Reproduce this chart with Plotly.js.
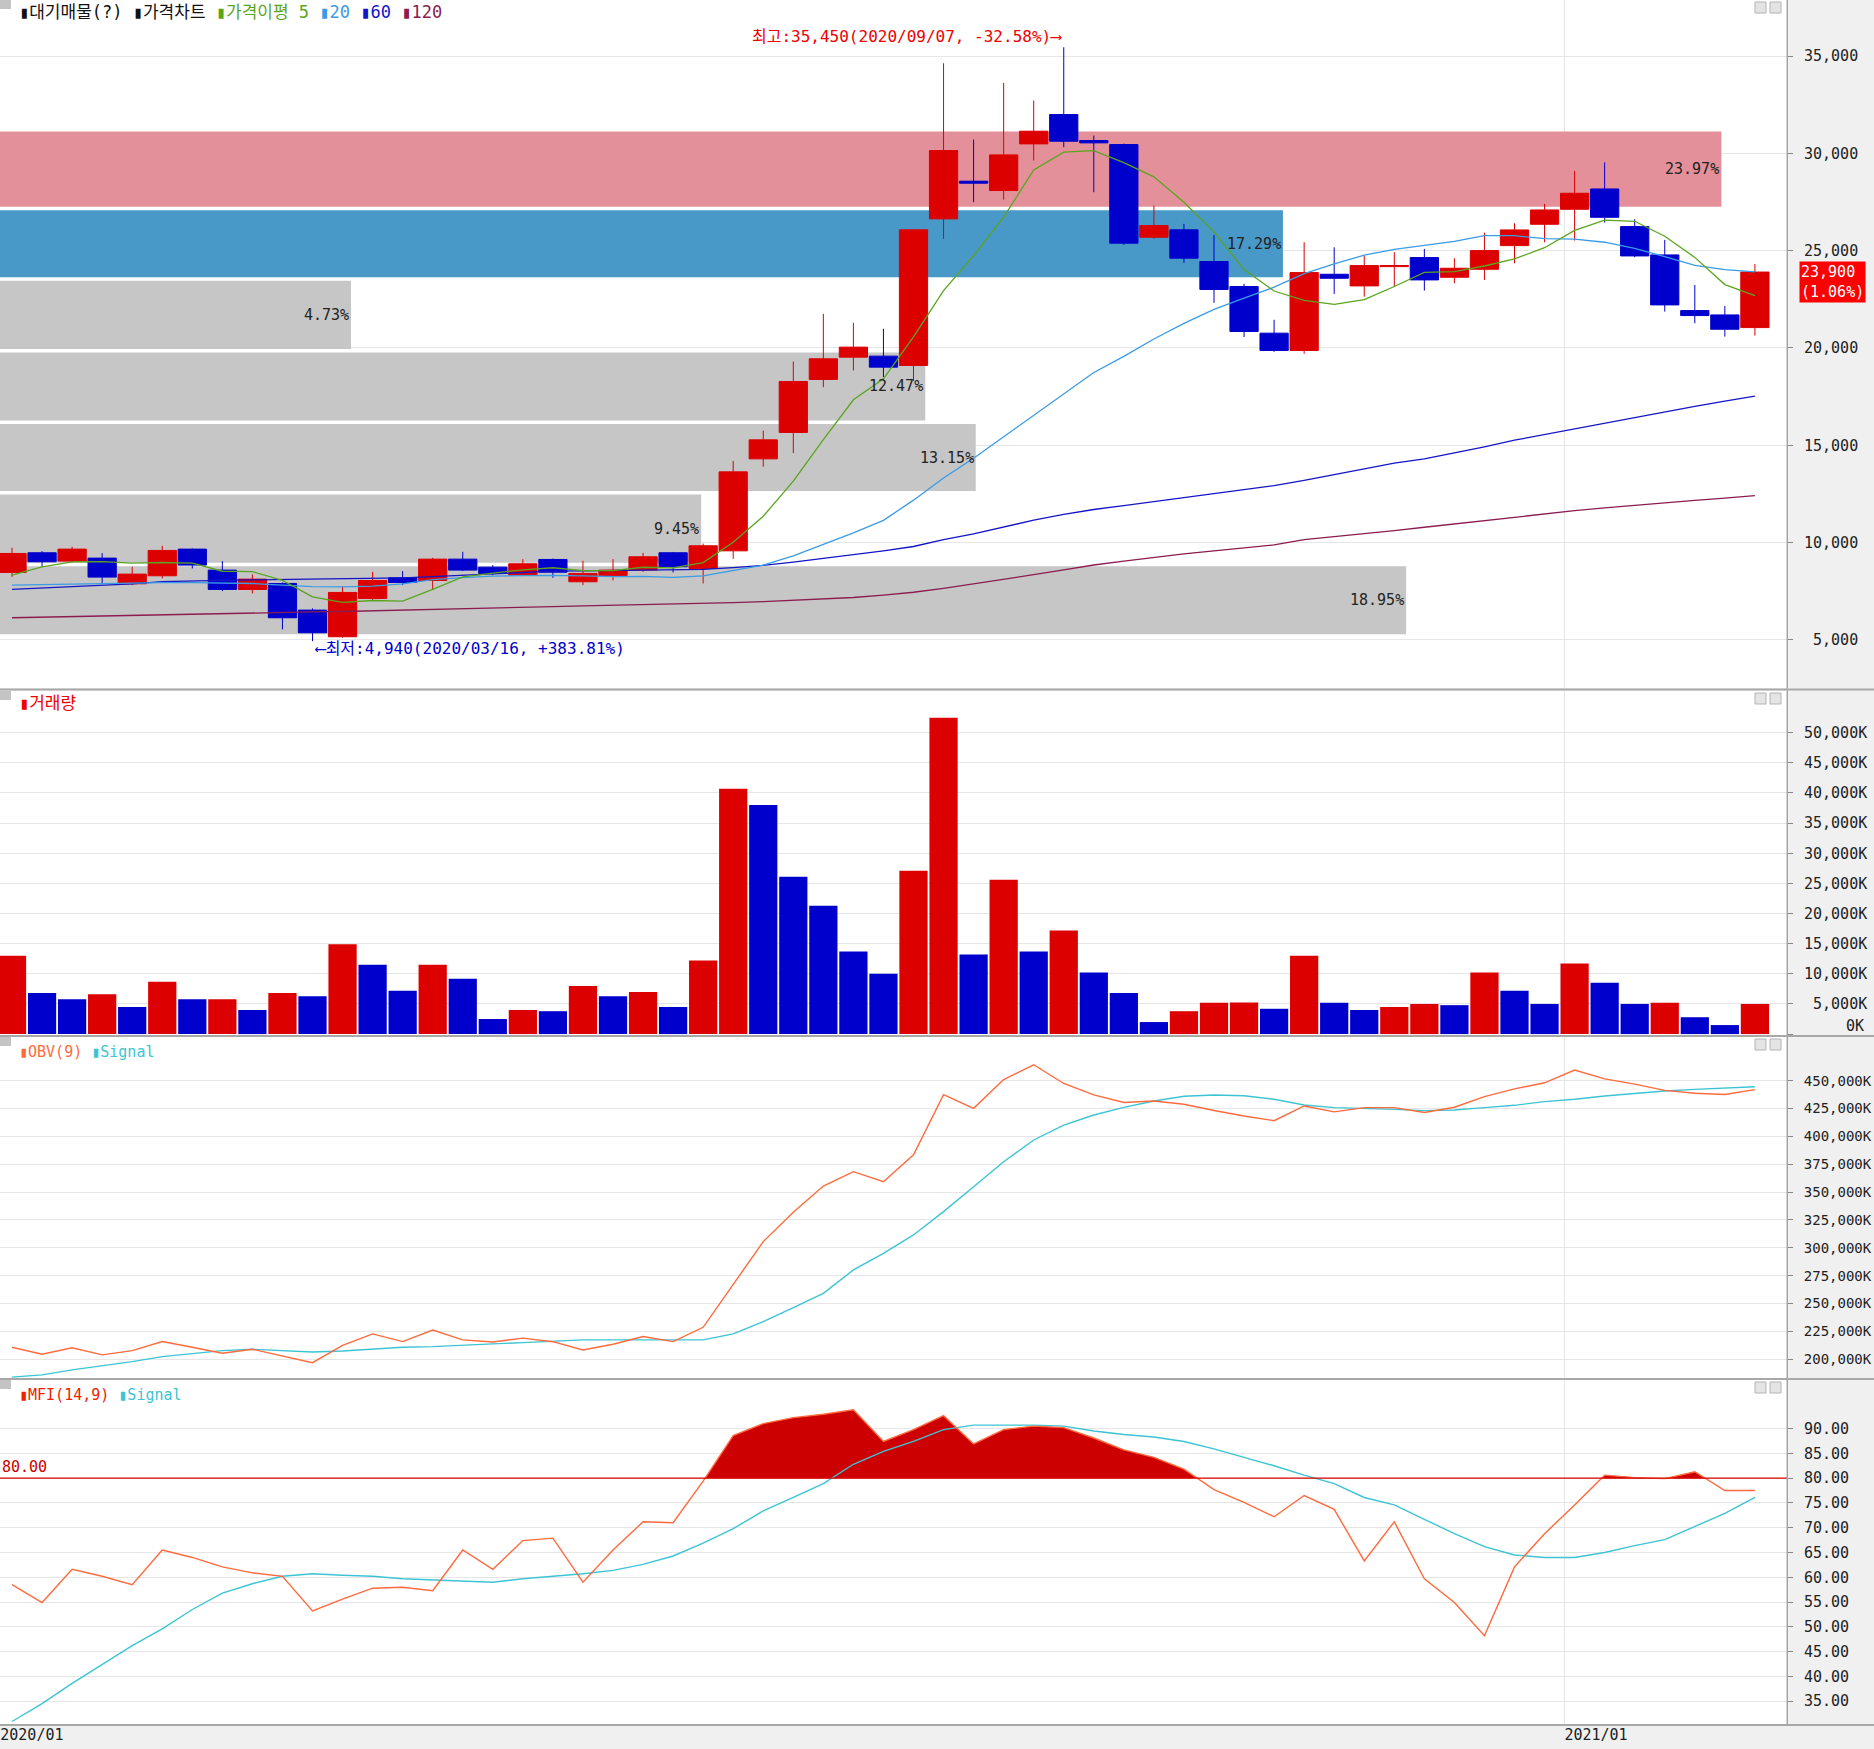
<!DOCTYPE html>
<html>
<head>
<meta charset="utf-8">
<script src="https://cdn.plot.ly/plotly-3.0.1.min.js"></script>
<style>
html,body{margin:0;padding:0;background:#f0f0f0;overflow:hidden;}
#chart{width:1874px;height:1749px;}
</style>
</head>
<body>
<div id="chart"></div>
<script>
// ---------------- DATA (weekly candles, index 0 = first week of 2020/01) ----------------
const openP  = [8467,9477,9049,9203,7884,8295,9665,8586,7593,7902,6532,5162,7131,8193,8056,9151,8740,8330,9134,7987,8295,8586,9477,8672,9577,14302,15658,18381,19528,19580,19100,26633,28568,28088,30485,31992,30656,30451,25691,26068,24442,23158,20761,19871,23787,23188,24180,24643,23633,24044,25259,26355,27125,28169,26235,24780,21921,21698,21047];
const highP  = [9733,9562,9785,9460,8758,9836,9700,9049,8364,7950,6618,7765,8501,8535,9220,9528,8843,9151,9180,9066,9151,9477,9520,9950,14199,15750,19306,21754,21292,20984,26068,34628,30708,33618,32711,35450,30913,30500,27318,26376,25811,23295,21446,25435,25173,24745,24917,25088,24608,25927,26406,27399,29094,29539,26611,25550,23239,22160,24317];
const lowP   = [8244,8758,8980,7902,7816,8158,8672,7508,7388,5539,4940,5111,7046,7816,7593,8535,8330,8278,8193,7816,8056,8501,8467,7902,9166,13900,14600,17987,18844,18501,18300,25606,27489,27626,29629,30314,28003,25298,25606,24373,22319,20556,19800,19700,22777,22640,23153,22948,23324,23496,24352,25430,25516,26440,24660,21869,21270,20585,20637];
const closeP = [9442,9014,9665,8227,8381,9597,8843,7593,8124,6138,5368,7439,8056,7953,9151,8586,8415,8912,8480,8415,8586,9271,8758,9836,13634,15278,18278,19443,20042,19015,26068,30143,28465,29920,31136,30622,30537,25383,26291,24613,23004,20847,19871,23872,23581,24232,24232,23496,24095,25002,26064,27091,27947,26714,24728,22212,21664,20962,23900];
const volumeK = [13000,6800,5800,6600,4500,8700,5800,5800,4000,6800,6300,14900,11500,7200,11500,9200,2500,4000,3800,8000,6300,7000,4500,12200,40700,38000,26100,21300,13700,10000,27100,52500,13200,25600,13700,17200,10200,6800,2000,3800,5200,5250,4200,13000,5200,4000,4500,5000,4800,10200,7200,5000,11700,8500,5000,5200,2800,1500,5000];
const ma5   = [8330,8750,9010,9020,8946,8977,8943,8528,8508,8059,7213,6932,7025,6991,7593,8237,8432,8603,8709,8562,8562,8733,8702,8973,10017,11355,13157,15294,17335,18411,20569,22942,24747,26722,29146,30057,30136,29520,28794,27489,25966,24028,22925,22441,22235,22481,23158,23883,23927,24211,24578,25150,26040,26564,26509,25738,24653,23256,22693];
const ma20  = [7820,7850,7880,7900,7920,7940,7940,7930,7900,7820,7740,7730,7760,7880,8100,8200,8280,8300,8320,8290,8247,8260,8214,8295,8558,8842,9313,9906,10502,11146,12181,13316,14336,15435,16534,17636,18742,19565,20459,21266,21987,22566,23121,23823,24320,24768,25066,25269,25471,25771,25770,25618,25592,25432,25111,24691,24247,24026,23906];
const ma60  = [7600,7670,7740,7800,7880,8000,8040,8060,8080,8100,8120,8150,8170,8190,8250,8320,8400,8470,8530,8550,8560,8575,8590,8620,8710,8830,9000,9190,9390,9580,9800,10150,10450,10800,11150,11450,11700,11900,12100,12300,12500,12720,12930,13200,13500,13800,14080,14300,14600,14920,15260,15550,15850,16150,16450,16730,17000,17270,17520];
const ma120 = [6140,6170,6200,6230,6260,6300,6350,6380,6400,6420,6440,6460,6490,6530,6560,6600,6650,6680,6710,6750,6780,6820,6850,6880,6920,6970,7030,7100,7180,7300,7450,7650,7880,8100,8350,8600,8850,9050,9250,9420,9580,9730,9880,10150,10300,10450,10620,10790,10960,11130,11300,11480,11640,11780,11920,12050,12170,12290,12410];
const obvK  = [210800,204500,210300,204000,207800,215900,210800,205400,209000,203200,197000,212500,222800,215900,226300,217400,215500,219000,215800,208400,213500,220400,215900,228700,267500,305600,332000,355500,368400,359400,383500,437500,425200,451000,464300,447500,437200,430400,431800,428800,423300,418300,414100,427300,422000,425800,425800,421500,426200,435700,442600,448100,459600,451600,446900,441300,438700,437600,442000];
const obvSignalK = [184000,186000,190500,194000,197900,202400,205400,207800,209000,207800,206600,207500,209000,210800,211400,212300,213800,215000,216500,217400,217400,217400,217400,217400,222800,233800,246400,259200,280200,295100,311600,332500,354900,377300,396800,410200,419200,426100,431800,436000,437100,436500,433300,428200,425800,425200,424300,423100,423700,425800,427900,431200,433300,436200,438600,440700,442200,443700,444600];
const mfi = [58.5,54.9,61.6,60.2,58.5,65.5,64.0,62.1,60.9,60.2,53.2,55.6,57.8,58.0,57.3,65.5,61.6,67.4,67.9,59.0,65.5,71.2,71.0,79.4,88.6,91.0,92.2,92.9,93.8,87.4,89.8,92.6,86.9,89.8,90.5,90.2,88.1,85.7,84.2,81.8,77.7,75.1,72.2,76.5,73.7,63.3,71.2,59.7,54.9,48.2,62.1,68.8,74.6,80.6,80.1,79.9,81.3,77.5,77.5];
const mfiSignal = [30.9,34.5,38.6,42.4,46.2,49.6,53.5,56.8,58.7,60.2,60.7,60.4,60.2,59.7,59.5,59.2,59.0,59.7,60.2,60.7,61.4,62.6,64.3,66.9,69.8,73.4,76.1,78.9,82.8,85.4,87.4,89.8,90.7,90.7,90.7,90.5,89.5,88.8,88.3,87.4,85.9,84.2,82.5,80.6,78.9,76.1,74.6,71.7,68.8,66.2,64.5,64.0,64.0,65.0,66.4,67.6,70.3,72.9,76.1];
const mfiLevel = 80;

// 대기매물 (volume-at-price) bands
const bandLow  = [27260,23639,19952,16274,12654,8971,5289];
const bandHigh = [31122,27075,23454,19772,16089,12468,8786];
const bandPct  = [23.97,17.29,4.73,12.47,13.15,9.45,18.95];

// ticks
const priceTicks = [5000,10000,15000,20000,25000,30000,35000];
const volTicks   = [0,5000,10000,15000,20000,25000,30000,35000,40000,45000,50000];
const obvTicks   = [200000,225000,250000,275000,300000,325000,350000,375000,400000,425000,450000];
const mfiTicks   = [35,40,45,50,55,60,65,70,75,80,85,90];
const dateTickLabels = ['2020/01','2021/01'];
const dateTickPos    = [-0.39, 51.66];
const lastPrice = 23900, lastChangePct = 1.06;
const highDate = '2020/09/07', lowDate = '2020/03/16';

// ---------------- LAYOUT GEOMETRY ----------------
const W = 1874, H = 1749, PW = 1787, STEP = 30.05;
const py = p => 1 - p / H;
const pxp = p => p / PW;
const X0 = -12 / STEP, X1 = X0 + PW / STEP;
const xi = closeP.map((_, i) => i);
const fmt = n => n.toLocaleString('en-US');
const pad = (s, n) => String(s).padStart(n, '\u00a0');
const MONO = 'DejaVu Sans Mono, Noto Sans CJK KR';
const KR = 'DejaVu Sans Mono, Noto Sans CJK KR';

const RED = '#dd0000', BLUE = '#0000cc';
const C_MA5 = '#5aa51e', C_MA20 = '#3a9be6', C_MA60 = '#1414c8', C_MA120 = '#8b1c50';
const C_OBV = '#ff6a3d', C_SIG = '#3cc4d4';
const bandColors = ['#e3909a','#4898c8','#c6c6c6','#c6c6c6','#c6c6c6','#c6c6c6','#c6c6c6'];
const PX_PER_PCT = 74.2, PCT_CAP = 23.2;
const bandLen = bandPct.map(p => Math.min(p, PCT_CAP) * PX_PER_PCT / STEP);

const traces = [];
// bands
traces.push({type:'bar', orientation:'h', xaxis:'x', yaxis:'y',
  y: bandLow.map((l,i)=>(l+bandHigh[i])/2), width: bandLow.map((l,i)=>bandHigh[i]-l),
  base: X0, x: bandLen, marker:{color: bandColors, line:{width:0}}, hoverinfo:'skip'});
// candles
traces.push({type:'candlestick', xaxis:'x', yaxis:'y', x: xi, open: openP, high: highP, low: lowP, close: closeP,
  increasing:{line:{color:RED, width:1}, fillcolor:RED},
  decreasing:{line:{color:BLUE, width:1}, fillcolor:BLUE},
  whiskerwidth:0, hoverinfo:'skip'});
// moving averages
[[ma120,C_MA120],[ma60,C_MA60],[ma20,C_MA20],[ma5,C_MA5]].forEach(([d,c])=>{
  traces.push({type:'scatter', mode:'lines', xaxis:'x', yaxis:'y', x: xi, y: d, line:{color:c, width:1.3}, hoverinfo:'skip'});
});
// volume
traces.push({type:'bar', xaxis:'x', yaxis:'y2', x: xi, y: volumeK,
  marker:{color: volumeK.map((v,i)=> (i===0 || v>=volumeK[i-1]) ? RED : BLUE), line:{width:0}}, hoverinfo:'skip'});
// OBV
traces.push({type:'scatter', mode:'lines', xaxis:'x', yaxis:'y3', x: xi, y: obvSignalK, line:{color:C_SIG, width:1.4}, hoverinfo:'skip'});
traces.push({type:'scatter', mode:'lines', xaxis:'x', yaxis:'y3', x: xi, y: obvK, line:{color:C_OBV, width:1.4}, hoverinfo:'skip'});
// MFI fill above level
const fx = [], fy = [];
for (let i = 0; i < mfi.length; i++) {
  if (i > 0) {
    const a = mfi[i-1], b = mfi[i];
    if ((a - mfiLevel) * (b - mfiLevel) < 0) { const t = (mfiLevel - a) / (b - a); fx.push(i - 1 + t); fy.push(mfiLevel); }
  }
  fx.push(i); fy.push(Math.max(mfi[i], mfiLevel));
}
traces.push({type:'scatter', mode:'lines', xaxis:'x', yaxis:'y4', x:[0, mfi.length-1], y:[mfiLevel, mfiLevel], line:{width:0, color:'rgba(0,0,0,0)'}, hoverinfo:'skip'});
traces.push({type:'scatter', mode:'lines', xaxis:'x', yaxis:'y4', x: fx, y: fy, fill:'tonexty', fillcolor:'#cc0000', line:{width:0, color:'#cc0000'}, hoverinfo:'skip'});
traces.push({type:'scatter', mode:'lines', xaxis:'x', yaxis:'y4', x: xi, y: mfiSignal, line:{color:C_SIG, width:1.4}, hoverinfo:'skip'});
traces.push({type:'scatter', mode:'lines', xaxis:'x', yaxis:'y4', x: xi, y: mfi, line:{color:C_OBV, width:1.4}, hoverinfo:'skip'});

function yax(domain, range, vals, text, fsize) {
  return {domain, range, side:'right', anchor:'x', tickvals: vals, ticktext: text,
    ticks:'outside', ticklen:5, tickcolor:'#888', tickwidth:1,
    showline:true, linecolor:'#a0a0a0', linewidth:1, mirror:false,
    showgrid:true, gridcolor:'#e6e6e6', gridwidth:1, zeroline:false,
    tickfont:{family:'DejaVu Sans Mono', size: fsize || 15, color:'#222'}, ticklabelstandoff:8, fixedrange:true};
}

const annotations = [];
function ann(x, y, text, o) {
  annotations.push(Object.assign({x: pxp(x), y: py(y), xref:'paper', yref:'paper', xanchor:'left', yanchor:'middle',
    text, showarrow:false, font:{family:KR, size:17, color:'#111'}}, o || {}));
}
// panel headers
ann(17, 12, '<span style="color:#111">▮대기매물(?)</span> <span style="color:#111">▮가격차트</span> <span style="color:'+C_MA5+'">▮가격이평 5</span> <span style="color:'+C_MA20+'">▮20</span> <span style="color:'+C_MA60+'">▮60</span> <span style="color:'+C_MA120+'">▮120</span>');
ann(17, 703, '<span style="color:#ee0000">▮거래량</span>');
ann(17, 1052, '<span style="color:'+C_OBV+'">▮OBV(9)</span> <span style="color:'+C_SIG+'">▮Signal</span>', {font:{family:MONO, size:15}});
ann(17, 1395, '<span style="color:#ee2200">▮MFI(14,9)</span> <span style="color:'+C_SIG+'">▮Signal</span>', {font:{family:MONO, size:15}});
// "0K" label sits slightly above the baseline, as in the original terminal
ann(1866, 1026, '0K', {xanchor:'right', font:{family:'DejaVu Sans Mono', size:15, color:'#222'}});
// high / low markers
const maxHigh = Math.max(...highP), iHigh = highP.indexOf(maxHigh);
const minLow = Math.min(...lowP), iLow = lowP.indexOf(minLow);
const pctFromHigh = ((lastPrice - maxHigh) / maxHigh * 100).toFixed(2);
const pctFromLow = ((lastPrice - minLow) / minLow * 100).toFixed(2);
annotations.push({x: iHigh, xref:'x', y: py(36), yref:'paper', xanchor:'right', yanchor:'middle', showarrow:false,
  text: '최고:' + fmt(maxHigh) + '(' + highDate + ', ' + pctFromHigh + '%)⟶', font:{family:KR, size:16, color:'#ee0000'}});
annotations.push({x: iLow, xref:'x', y: py(649), yref:'paper', xanchor:'left', yanchor:'middle', showarrow:false,
  text: '⟵최저:' + fmt(minLow) + '(' + lowDate + ', +' + pctFromLow + '%)', font:{family:KR, size:16, color:'#0000cc'}});
// band labels
bandPct.forEach((p, i) => {
  annotations.push({x: X0 + bandLen[i], xref:'x', y: (bandLow[i] + bandHigh[i]) / 2, yref:'y', xanchor:'right', yanchor:'middle',
    showarrow:false, text: p.toFixed(2) + '%', font:{family:MONO, size:15, color:'#222'}});
});
// last price box
annotations.push({x: pxp(1799), xref:'paper', y: lastPrice, yref:'y', xanchor:'left', yanchor:'top', yshift: 11,
  showarrow:false, align:'left', bgcolor:'#ff0000', borderpad:1,
  text: fmt(lastPrice) + '<br>(' + lastChangePct.toFixed(2) + '%)', font:{family:MONO, size:15, color:'#ffffff'}});
// MFI level label
annotations.push({x: 0, xref:'paper', y: mfiLevel, yref:'y4', xanchor:'left', yanchor:'bottom', showarrow:false,
  text: mfiLevel.toFixed(2), font:{family:MONO, size:15, color:'#cc0000'}});

const shapes = [];
// MFI level line
shapes.push({type:'line', xref:'paper', yref:'y4', x0:0, x1:1, y0:mfiLevel, y1:mfiLevel, line:{color:'#dd0000', width:1.2}});
// separators
[689.5, 1036, 1379, 1725].forEach(y => shapes.push({type:'line', xref:'paper', yref:'paper', x0:0, x1:W/PW, y0:py(y), y1:py(y), line:{color:'#a8a8a8', width:2}}));
shapes.push({type:'line', xref:'paper', yref:'paper', x0:1, x1:1, y0:py(1725), y1:1, line:{color:'#a8a8a8', width:1}});
// panel corner widgets
[0, 691, 1037, 1380].forEach(t => {
  shapes.push({type:'rect', xref:'paper', yref:'paper', x0:0, x1:pxp(11), y0:py(t+9), y1:py(t), fillcolor:'#c4c4c4', line:{width:0}});
  shapes.push({type:'rect', xref:'paper', yref:'paper', x0:pxp(1755), x1:pxp(1766), y0:py(t+13), y1:py(t+2), fillcolor:'#e4e4e4', line:{color:'#b4b4b4', width:1}});
  shapes.push({type:'rect', xref:'paper', yref:'paper', x0:pxp(1770), x1:pxp(1781), y0:py(t+13), y1:py(t+2), fillcolor:'#e4e4e4', line:{color:'#b4b4b4', width:1}});
});

const layout = {
  width: W, height: H, margin:{l:0, r:W-PW, t:0, b:0},
  paper_bgcolor:'#f0f0f0', plot_bgcolor:'#ffffff', showlegend:false, hovermode:false,
  barmode:'overlay', bargap:0.06, boxgap:0.06, boxgroupgap:0,
  xaxis:{domain:[0,1], range:[X0, X1], anchor:'y4', tickvals: dateTickPos, ticktext: dateTickLabels,
    ticks:'', ticklabelposition:'outside right', showgrid:true, gridcolor:'#e6e6e6', gridwidth:1, zeroline:false, showline:false,
    tickfont:{family:'DejaVu Sans Mono', size:15, color:'#222'}, rangeslider:{visible:false}, fixedrange:true},
  yaxis:  yax([py(688), 1], [2530, 37877], priceTicks, priceTicks.map(v => pad(fmt(v), 6))),
  yaxis2: yax([py(1035), py(691)], [-149, 56918], volTicks, volTicks.map(v => v === 0 ? '' : pad(fmt(v) + 'K', 7))),
  yaxis3: yax([py(1378), py(1037)], [183220, 489200], obvTicks, obvTicks.map(v => pad(fmt(v) + 'K', 8)), 14),
  yaxis4: yax([py(1724), py(1380)], [30.4, 99.8], mfiTicks, mfiTicks.map(v => pad(v.toFixed(2), 5))),
  annotations, shapes
};

Plotly.newPlot('chart', traces, layout, {staticPlot:true});
</script>
</body>
</html>
